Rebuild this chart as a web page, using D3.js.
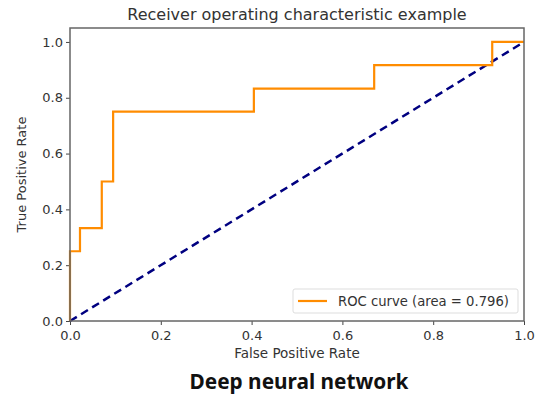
<!DOCTYPE html>
<html>
<head>
<meta charset="utf-8">
<script src="https://cdn.jsdelivr.net/npm/d3@7"></script>
<style>
  body { margin: 0; background: #fff; }
  text { font-family: "DejaVu Sans", sans-serif; fill: #333; }
</style>
</head>
<body>
<div id="chart"></div>
<script>
// ROC curve points
var fpr = [0, 0, 0.022, 0.022, 0.07, 0.07, 0.095, 0.095, 0.405, 0.405, 0.67, 0.67, 0.93, 0.93, 1];
var tpr = [0, 0.25, 0.25, 0.333, 0.333, 0.5, 0.5, 0.75, 0.75, 0.833, 0.833, 0.917, 0.917, 1, 1];
var xTicks = [0, 0.2, 0.4, 0.6, 0.8, 1.0];
var yTicks = [0, 0.2, 0.4, 0.6, 0.8, 1.0];
var aucLabel = "ROC curve (area = 0.796)";

var width = 544, height = 403;
var margin = { top: 28, left: 70, right: 20, bottom: 82 };
var iw = width - margin.left - margin.right,
    ih = height - margin.top - margin.bottom;

var svg = d3.select("#chart")
  .append("svg")
  .attr("width", width)
  .attr("height", height);

var g = svg.append("g")
  .attr("transform", "translate(" + margin.left + "," + margin.top + ")");

var x = d3.scaleLinear().domain([0, 1]).range([0, iw]);
var y = d3.scaleLinear().domain([0, 1.05]).range([ih, 0]);

// axes
var xAxis = g.append("g")
  .attr("transform", "translate(0," + ih + ")")
  .call(d3.axisBottom(x).tickValues(xTicks).tickFormat(d3.format(".1f")).tickSize(4).tickSizeOuter(0));
var yAxis = g.append("g")
  .call(d3.axisLeft(y).tickValues(yTicks).tickFormat(d3.format(".1f")).tickSize(4).tickSizeOuter(0));

[xAxis, yAxis].forEach(function(a) {
  a.select(".domain").remove();
  a.selectAll("line").attr("stroke", "#444");
  a.selectAll("text").style("font-size", "13px").attr("fill", "#333");
});
xAxis.selectAll("text").attr("dy", "0.95em");

// diagonal
g.append("line")
  .attr("x1", x(0)).attr("y1", y(0))
  .attr("x2", x(1)).attr("y2", y(1))
  .attr("stroke", "navy")
  .attr("stroke-width", 2.5)
  .attr("stroke-dasharray", "8,5");

// roc curve
var line = d3.line()
  .x(function(d, i) { return x(fpr[i]); })
  .y(function(d, i) { return y(tpr[i]); });

g.append("path")
  .datum(fpr)
  .attr("d", line)
  .attr("fill", "none")
  .attr("stroke", "darkorange")
  .attr("stroke-width", 2.2);

// frame
g.append("rect")
  .attr("width", iw).attr("height", ih)
  .attr("fill", "none")
  .attr("stroke", "#666")
  .attr("stroke-width", 1.5);

// legend
var lg = g.append("g").attr("transform", "translate(" + (iw - 231) + "," + (ih - 32) + ")");
lg.append("rect")
  .attr("width", 225).attr("height", 24).attr("rx", 2)
  .attr("fill", "#fff").attr("stroke", "#ddd");
lg.append("line")
  .attr("x1", 5).attr("x2", 34).attr("y1", 12).attr("y2", 12)
  .attr("stroke", "darkorange").attr("stroke-width", 2.2);
lg.append("text")
  .attr("x", 45).attr("y", 16.5)
  .style("font-size", "13.2px")
  .text(aucLabel);

// titles
svg.append("text")
  .attr("x", margin.left + iw / 2).attr("y", 20)
  .attr("text-anchor", "middle")
  .style("font-size", "16px")
  .text("Receiver operating characteristic example");

svg.append("text")
  .attr("x", margin.left + iw / 2).attr("y", 358)
  .attr("text-anchor", "middle")
  .style("font-size", "13.5px")
  .text("False Positive Rate");

svg.append("text")
  .attr("transform", "translate(26," + (margin.top + ih / 2) + ") rotate(-90)")
  .attr("text-anchor", "middle")
  .style("font-size", "13px")
  .text("True Positive Rate");

svg.append("text")
  .attr("x", 299).attr("y", 389)
  .attr("text-anchor", "middle")
  .style("font-family", "'Noto Sans', sans-serif")
  .style("font-weight", "bold")
  .style("font-size", "20.8px")
  .style("fill", "#111")
  .text("Deep neural network");
</script>
</body>
</html>
